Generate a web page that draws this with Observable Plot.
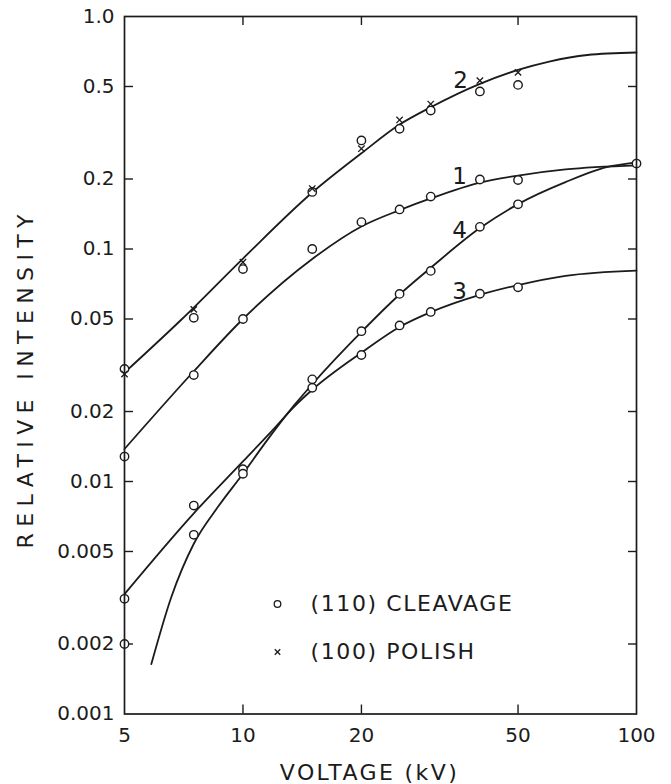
<!DOCTYPE html>
<html>
<head>
<meta charset="utf-8">
<script src="https://cdn.jsdelivr.net/npm/d3@7"></script>
<script src="https://cdn.jsdelivr.net/npm/@observablehq/plot@0.6"></script>
<style>
  html, body { margin: 0; padding: 0; background: #fff; }
</style>
</head>
<body>
<div id="chart"></div>
<script>
// ---- data ----
const volts = [5, 7.5, 10, 15, 20, 25, 30, 40, 50];
const series1Cleavage = [0.0128, 0.0287, 0.05, 0.1, 0.1305, 0.148, 0.168, 0.199, 0.198];
const series2Cleavage = [0.0305, 0.0506, 0.082, 0.176, 0.293, 0.329, 0.394, 0.476, 0.508];
const series2Polish   = [0.029, 0.055, 0.0877, 0.182, 0.27, 0.359, 0.42, 0.53, 0.575];
const series3Cleavage = [0.00313, 0.00788, 0.0113, 0.0253, 0.035, 0.0469, 0.0536, 0.0642, 0.0684];
const series4Volts    = [5, 7.5, 10, 15, 20, 25, 30, 40, 50, 100];
const series4Cleavage = [0.002, 0.0059, 0.0108, 0.0275, 0.0443, 0.0641, 0.0805, 0.1245, 0.1557, 0.233];

// smooth curves
const curve1V = [5, 7.5, 10, 15, 20, 25, 30, 40, 50, 66, 100];
const curve1I = [0.0138, 0.0298, 0.050, 0.0906, 0.125, 0.147, 0.165, 0.193, 0.207, 0.220, 0.229];
const curve2V = [5, 7, 10, 15, 20, 25, 30, 40, 50, 60, 75, 100];
const curve2I = [0.0294, 0.050, 0.091, 0.175, 0.258, 0.343, 0.407, 0.513, 0.589, 0.640, 0.683, 0.70];
const curve3V = [5, 7.5, 10, 11.8, 13.5, 15, 20, 25, 30, 40, 50, 66, 100];
const curve3I = [0.00328, 0.0073, 0.0122, 0.0164, 0.0210, 0.0248, 0.0358, 0.0462, 0.0535, 0.0635, 0.0700, 0.0767, 0.0808];
const curve4V = [5.85, 6.57, 7.5, 8.65, 10, 11.4, 13.5, 15, 20, 25, 30, 40, 50, 66, 84, 100];
const curve4I = [0.00164, 0.00317, 0.0054, 0.0078, 0.0108, 0.0147, 0.0213, 0.0262, 0.0440, 0.0637, 0.083, 0.123, 0.156, 0.194, 0.225, 0.236];

const curveLabels = ["2", "1", "4", "3"];
const curveLabelV = [35.7, 35.5, 35.5, 35.5];
const curveLabelI = [0.53, 0.205, 0.120, 0.0658];

const xTicks = [5, 10, 20, 50, 100];
const xTickLabels = ["5", "10", "20", "50", "100"];
const xInnerTicks = [10, 20, 50];
const yTicks = [0.001, 0.002, 0.005, 0.01, 0.02, 0.05, 0.1, 0.2, 0.5, 1];
const yTickLabels = ["0.001", "0.002", "0.005", "0.01", "0.02", "0.05", "0.1", "0.2", "0.5", "1.0"];
const yInnerTicks = [0.002, 0.005, 0.01, 0.02, 0.05, 0.1, 0.2, 0.5];

const legendLabels = ["(110) CLEAVAGE", "(100) POLISH"];
const xTitle = "VOLTAGE (kV)";
const yTitle = "RELATIVE INTENSITY";

// ---- build tables ----
const toPts = (xs, ys) => xs.map((v, i) => ({v, I: ys[i]}));
const curves = [
  toPts(curve1V, curve1I), toPts(curve2V, curve2I),
  toPts(curve3V, curve3I), toPts(curve4V, curve4I)
];
const circles = [
  ...toPts(volts, series1Cleavage),
  ...toPts(volts, series2Cleavage),
  ...toPts(volts, series3Cleavage),
  ...toPts(series4Volts, series4Cleavage)
];
const crosses = toPts(volts, series2Polish);
const labels = curveLabels.map((t, i) => ({t, v: curveLabelV[i], I: curveLabelI[i]}));

const W = 671, H = 784;
const mL = 124, mR = 35, mT = 16, mB = 70.5;
const innerW = W - mL - mR, innerH = H - mT - mB;
const ink = "#1b1b1b";

const chart = Plot.plot({
  width: W, height: H,
  marginLeft: mL, marginRight: mR, marginTop: mT, marginBottom: mB,
  style: {fontFamily: "DejaVu Sans, sans-serif", background: "#fff", color: ink, overflow: "visible"},
  x: {type: "log", domain: [5, 100], axis: null},
  y: {type: "log", domain: [0.001, 1], axis: null},
  marks: [
    // inward ticks on all four sides
    Plot.tickY(yInnerTicks, {y: d => d, insetRight: innerW - 9, stroke: ink, strokeWidth: 1.4}),
    Plot.tickY(yInnerTicks, {y: d => d, insetLeft: innerW - 8, stroke: ink, strokeWidth: 1.4}),
    Plot.tickX(xInnerTicks, {x: d => d, insetTop: innerH - 9, stroke: ink, strokeWidth: 1.4}),
    Plot.tickX(xInnerTicks, {x: d => d, insetBottom: innerH - 9, stroke: ink, strokeWidth: 1.4}),
    // tick labels
    Plot.text(xTicks, {x: d => d, text: (d, i) => xTickLabels[i], frameAnchor: "bottom",
      textAnchor: "middle", lineAnchor: "middle", dy: 21.5, fontSize: 20, fill: ink}),
    Plot.axisY(yTicks, {tickSize: 0, tickPadding: 10, fontSize: 20, label: null,
      tickFormat: d => yTickLabels[yTicks.indexOf(d)]}),
    // curves
    ...curves.map(c => Plot.line(c, {x: "v", y: "I", curve: "monotone-x", stroke: ink, strokeWidth: 1.8})),
    // data markers
    Plot.dot(circles, {x: "v", y: "I", r: 4.2, fill: "#fff", stroke: ink, strokeWidth: 1.4}),
    Plot.dot(crosses, {x: "v", y: "I", r: 3, symbol: "times", stroke: ink, strokeWidth: 1.3}),
    // curve numbers
    Plot.text(labels, {x: "v", y: "I", text: "t", fontSize: 23, fill: ink}),
    // frame
    Plot.frame({stroke: ink, strokeWidth: 1.7}),
    // legend
    Plot.dot([legendLabels[0]], {frameAnchor: "bottom-left", dx: 153, dy: -110, r: 3.3, fill: "#fff", stroke: ink, strokeWidth: 1.3}),
    Plot.dot([legendLabels[1]], {frameAnchor: "bottom-left", dx: 153, dy: -62, r: 2.6, symbol: "times", stroke: ink, strokeWidth: 1.3}),
    Plot.text([legendLabels[0]], {text: d => d, frameAnchor: "bottom-left", dx: 186, dy: -110,
      textAnchor: "start", lineAnchor: "middle", fontSize: 22, fill: ink}),
    Plot.text([legendLabels[1]], {text: d => d, frameAnchor: "bottom-left", dx: 186, dy: -62,
      textAnchor: "start", lineAnchor: "middle", fontSize: 22, fill: ink}),
    // axis titles
    Plot.text([xTitle], {text: d => d, frameAnchor: "bottom", dx: -11, dy: 58.5,
      textAnchor: "middle", lineAnchor: "middle", fontSize: 22, fill: ink}),
    Plot.text([yTitle], {text: d => d, frameAnchor: "left", dx: -99, dy: 13, rotate: -90,
      textAnchor: "middle", lineAnchor: "middle", fontSize: 22, fill: ink})
  ]
});

d3.select(chart).selectAll("text").each(function() {
  const t = this.textContent;
  if (t === yTitle) this.setAttribute("letter-spacing", "6.4");
  else if (t === xTitle) this.setAttribute("letter-spacing", "2.4");
  else if (legendLabels.includes(t)) this.setAttribute("letter-spacing", "1.6");
});

document.getElementById("chart").appendChild(chart);
</script>
</body>
</html>
